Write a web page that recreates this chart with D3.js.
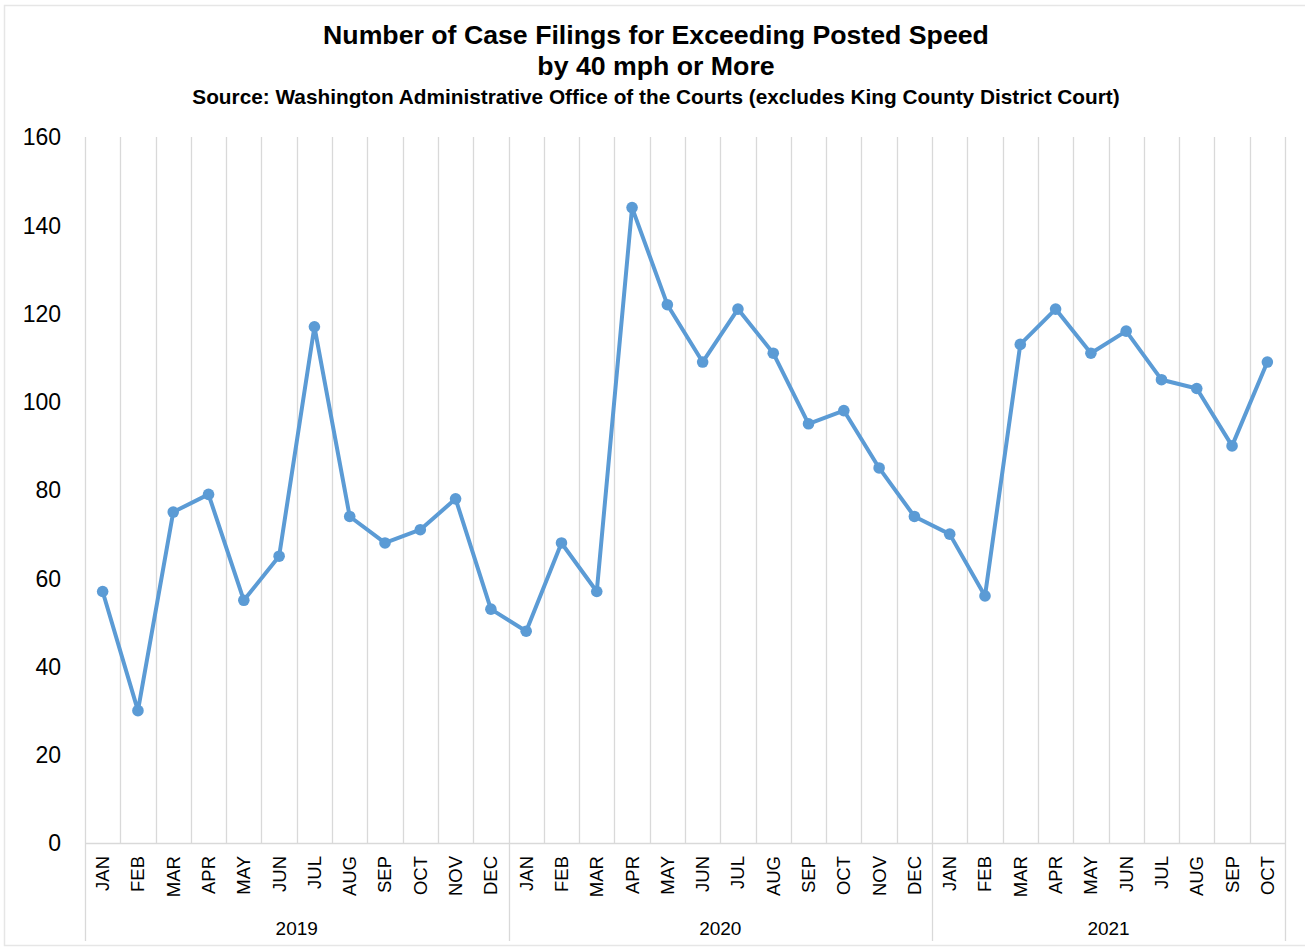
<!DOCTYPE html>
<html>
<head>
<meta charset="utf-8">
<script src="https://cdn.jsdelivr.net/npm/d3@7"></script>
<style>
  body { margin: 0; background: #fff; }
  svg { display: block; font-family: "Liberation Sans", Arial, sans-serif; }
</style>
</head>
<body>
<div id="chart"></div>
<script>
// data
var years = ["2019", "2020", "2021"];
var months = ["JAN", "FEB", "MAR", "APR", "MAY", "JUN", "JUL", "AUG", "SEP", "OCT", "NOV", "DEC"];
var values2019 = [57, 30, 75, 79, 55, 65, 117, 74, 68, 71, 78, 53];
var values2020 = [48, 68, 57, 144, 122, 109, 121, 111, 95, 98, 85, 74];
var values2021 = [70, 56, 113, 121, 111, 116, 105, 103, 90, 109];
var yTicks = [0, 20, 40, 60, 80, 100, 120, 140, 160];

var W = 1305, H = 948;
var margin = {top: 137, right: 20, bottom: 105, left: 85};

// flatten into one series of month/year points
var points = [];
[values2019, values2020, values2021].forEach(function(arr, yi) {
    arr.forEach(function(v, mi) {
        points.push({year: years[yi], month: months[mi], key: years[yi] + "-" + months[mi], value: v});
    });
});

var svg = d3.select("#chart").append("svg")
    .attr("width", W)
    .attr("height", H);

// faint frame round the picture
svg.append("rect")
    .attr("x", 4.5).attr("y", 5.5)
    .attr("width", W + 10).attr("height", 940)
    .attr("fill", "none")
    .attr("stroke", "#e6e6e6")
    .attr("stroke-width", 1.5);

var x = d3.scaleBand()
    .domain(points.map(function(d) { return d.key; }))
    .range([margin.left, W - margin.right]);

var y = d3.scaleLinear()
    .domain([0, 160])
    .range([H - margin.bottom, margin.top]);

var y0 = y(0), yTop = y(160);

// vertical grid lines between categories
svg.append("g")
    .selectAll("line")
    .data(points.slice(1))
    .enter().append("line")
    .attr("x1", function(d) { return Math.round(x(d.key)) + 0.5; })
    .attr("x2", function(d) { return Math.round(x(d.key)) + 0.5; })
    .attr("y1", yTop)
    .attr("y2", y0)
    .attr("stroke", "#d9d9d9")
    .attr("stroke-width", 1.3);

// x axis line
svg.append("line")
    .attr("x1", margin.left).attr("x2", W - margin.right)
    .attr("y1", y0 + 0.5).attr("y2", y0 + 0.5)
    .attr("stroke", "#d9d9d9")
    .attr("stroke-width", 1.3);

// year separators go down through the label area
var yearEdges = [margin.left];
years.forEach(function(yr) {
    var last = points.filter(function(d) { return d.year === yr; }).pop();
    yearEdges.push(x(last.key) + x.bandwidth());
});
svg.append("g")
    .selectAll("line")
    .data(yearEdges)
    .enter().append("line")
    .attr("x1", function(d) { return Math.round(d) + 0.5; })
    .attr("x2", function(d) { return Math.round(d) + 0.5; })
    .attr("y1", function(d, i) { return (i === 0 || i === yearEdges.length - 1) ? yTop : y0; })
    .attr("y2", 941)
    .attr("stroke", "#d9d9d9")
    .attr("stroke-width", 1.3);

// y axis labels
svg.append("g")
    .selectAll("text")
    .data(yTicks)
    .enter().append("text")
    .attr("x", 61)
    .attr("y", function(d) { return y(d); })
    .attr("dy", "0.36em")
    .attr("text-anchor", "end")
    .attr("font-size", 23)
    .attr("fill", "#000")
    .text(function(d) { return d; });

// month labels, rotated
svg.append("g")
    .selectAll("text")
    .data(points)
    .enter().append("text")
    .attr("transform", function(d) {
        return "translate(" + (x(d.key) + x.bandwidth() / 2) + "," + (y0 + 13) + ") rotate(-90)";
    })
    .attr("text-anchor", "end")
    .attr("dy", "0.35em")
    .attr("font-size", 18.5)
    .attr("fill", "#000")
    .text(function(d) { return d.month; });

// year labels
svg.append("g")
    .selectAll("text")
    .data(years)
    .enter().append("text")
    .attr("x", function(d, i) { return (yearEdges[i] + yearEdges[i + 1]) / 2; })
    .attr("y", 935)
    .attr("text-anchor", "middle")
    .attr("font-size", 19)
    .attr("fill", "#000")
    .text(function(d) { return d; });

// the series
var line = d3.line()
    .x(function(d) { return x(d.key) + x.bandwidth() / 2; })
    .y(function(d) { return y(d.value); });

svg.append("path")
    .datum(points)
    .attr("d", line)
    .attr("fill", "none")
    .attr("stroke", "#5b9bd5")
    .attr("stroke-width", 4)
    .attr("stroke-linejoin", "round");

svg.append("g")
    .selectAll("circle")
    .data(points)
    .enter().append("circle")
    .attr("cx", function(d) { return x(d.key) + x.bandwidth() / 2; })
    .attr("cy", function(d) { return y(d.value); })
    .attr("r", 5.8)
    .attr("fill", "#5b9bd5");

// titles
var cx = 656;
svg.append("text")
    .attr("x", cx).attr("y", 44)
    .attr("text-anchor", "middle")
    .attr("font-size", 26.7)
    .attr("font-weight", "bold")
    .text("Number of Case Filings for Exceeding Posted Speed");
svg.append("text")
    .attr("x", cx).attr("y", 75)
    .attr("text-anchor", "middle")
    .attr("font-size", 26.7)
    .attr("font-weight", "bold")
    .text("by 40 mph or More");
svg.append("text")
    .attr("x", cx).attr("y", 104)
    .attr("text-anchor", "middle")
    .attr("font-size", 20.8)
    .attr("font-weight", "bold")
    .text("Source: Washington Administrative Office of the Courts (excludes King County District Court)");
</script>
</body>
</html>
